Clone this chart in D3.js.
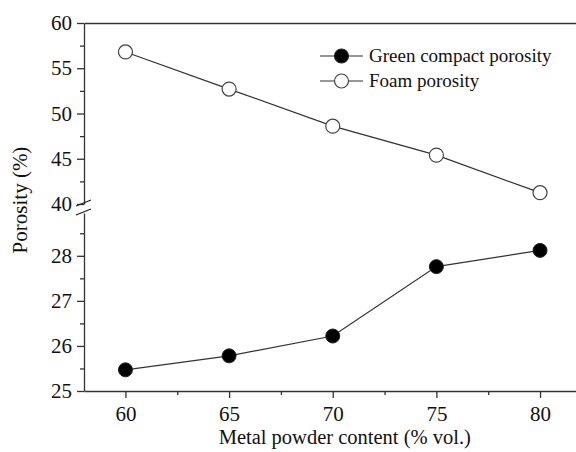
<!DOCTYPE html>
<html>
<head>
<meta charset="utf-8">
<script src="https://cdn.jsdelivr.net/npm/d3@7"></script>
<style>
  body { margin: 0; background: #fff; }
  svg { display: block; font-family: "Liberation Serif", "Times New Roman", serif; }
  .axis path, .axis line { stroke: #333; stroke-width: 1.3; }
</style>
</head>
<body>
<div id="container"></div>
<script>
// data
const content = [60, 65, 70, 75, 80];
const greenPorosity = [25.47, 25.78, 26.22, 27.76, 28.12];
const foamPorosity = [56.8, 52.7, 48.6, 45.4, 41.25];
const seriesNames = ["Green compact porosity", "Foam porosity"];
const xTicks = [60, 65, 70, 75, 80];
const upperTicks = [40, 45, 50, 55, 60];
const lowerTicks = [25, 26, 27, 28];

const w = 576;
const h = 452;

const svg = d3.select("#container")
  .append("svg")
  .attr("width", w)
  .attr("height", h);

const scalex = d3.scaleLinear().domain([58, 82]).range([84, 581.5]);
const yUp = d3.scaleLinear().domain([40, 60]).range([204, 23]);
const yLow = d3.scaleLinear().domain([25, 28.95]).range([391, 213]);

function styleText(g) {
  g.attr("font-family", "Liberation Serif, serif").attr("font-size", 21);
  g.selectAll("text").attr("fill", "#111");
}

// x axis
svg.append("g")
  .attr("class", "axis")
  .attr("transform", "translate(0," + yLow(25) + ")")
  .call(d3.axisBottom(scalex).tickValues(xTicks).tickSize(7).tickPadding(6).tickSizeOuter(0))
  .call(styleText)
  .call(g => g.selectAll("text").attr("dy", "0.8em"));
svg.append("g")
  .attr("class", "axis")
  .attr("transform", "translate(0," + yLow(25) + ")")
  .call(d3.axisBottom(scalex).tickValues([62.5, 67.5, 72.5, 77.5]).tickSize(4).tickFormat("").tickSizeOuter(0))
  .call(g => g.select(".domain").remove());

// top frame line
svg.append("g")
  .attr("class", "axis")
  .attr("transform", "translate(0," + yUp(60) + ")")
  .call(d3.axisTop(scalex).tickValues([]).tickSizeOuter(0));

// upper y axis
svg.append("g")
  .attr("class", "axis")
  .attr("transform", "translate(" + scalex(58) + ",0)")
  .call(d3.axisLeft(yUp).tickValues(upperTicks).tickSize(7).tickPadding(5).tickSizeOuter(0).tickFormat(d3.format("d")))
  .call(styleText);
svg.append("g")
  .attr("class", "axis")
  .attr("transform", "translate(" + scalex(58) + ",0)")
  .call(d3.axisLeft(yUp).tickValues([42.5, 47.5, 52.5, 57.5]).tickSize(4).tickFormat(""))
  .call(g => g.select(".domain").remove());

// lower y axis
svg.append("g")
  .attr("class", "axis")
  .attr("transform", "translate(" + scalex(58) + ",0)")
  .call(d3.axisLeft(yLow).tickValues(lowerTicks).tickSize(7).tickPadding(5).tickSizeOuter(0).tickFormat(d3.format("d")))
  .call(styleText);
svg.append("g")
  .attr("class", "axis")
  .attr("transform", "translate(" + scalex(58) + ",0)")
  .call(d3.axisLeft(yLow).tickValues([25.5, 26.5, 27.5, 28.5]).tickSize(4).tickFormat(""))
  .call(g => g.select(".domain").remove());

// break marks
const bx = scalex(58);
[yUp(40) - 1, yLow(28.95) - 1].forEach(by => {
  svg.append("line")
    .attr("x1", bx - 8).attr("y1", by + 3)
    .attr("x2", bx + 7).attr("y2", by - 3)
    .attr("stroke", "#222").attr("stroke-width", 1.2);
});

// axis titles
svg.append("text")
  .attr("x", (scalex(60) + scalex(80)) / 2 + 12)
  .attr("y", 444)
  .attr("text-anchor", "middle")
  .attr("font-size", 20.5)
  .attr("fill", "#111")
  .text("Metal powder content (% vol.)");

svg.append("text")
  .attr("transform", "translate(27,200) rotate(-90)")
  .attr("text-anchor", "middle")
  .attr("font-size", 21)
  .attr("fill", "#111")
  .text("Porosity (%)");

// series
const greenData = content.map((c, i) => [c, greenPorosity[i]]);
const foamData = content.map((c, i) => [c, foamPorosity[i]]);

const lineLow = d3.line().x(d => scalex(d[0])).y(d => yLow(d[1]));
const lineUp = d3.line().x(d => scalex(d[0])).y(d => yUp(d[1]));

svg.append("path")
  .datum(greenData)
  .attr("d", lineLow)
  .attr("fill", "none")
  .attr("stroke", "#333")
  .attr("stroke-width", 1.2);

svg.append("path")
  .datum(foamData)
  .attr("d", lineUp)
  .attr("fill", "none")
  .attr("stroke", "#333")
  .attr("stroke-width", 1.2);

svg.selectAll("circle.green")
  .data(greenData)
  .enter()
  .append("circle")
  .attr("class", "green")
  .attr("cx", d => scalex(d[0]))
  .attr("cy", d => yLow(d[1]))
  .attr("r", 7)
  .attr("fill", "#000")
  .attr("stroke", "#222");

svg.selectAll("circle.foam")
  .data(foamData)
  .enter()
  .append("circle")
  .attr("class", "foam")
  .attr("cx", d => scalex(d[0]))
  .attr("cy", d => yUp(d[1]))
  .attr("r", 7)
  .attr("fill", "#fff")
  .attr("stroke", "#444")
  .attr("stroke-width", 1.2);

// legend
const legend = svg.append("g").attr("transform", "translate(320,56)");
seriesNames.forEach((name, i) => {
  const g = legend.append("g").attr("transform", "translate(0," + (i * 25) + ")");
  g.append("line").attr("x1", 0).attr("x2", 43).attr("y1", 0).attr("y2", 0)
    .attr("stroke", "#333").attr("stroke-width", 1.2);
  g.append("circle").attr("cx", 21.5).attr("cy", 0).attr("r", 7)
    .attr("fill", i === 0 ? "#000" : "#fff")
    .attr("stroke", i === 0 ? "#222" : "#444").attr("stroke-width", 1.2);
  g.append("text").attr("x", 49).attr("y", 6)
    .attr("font-size", 19).attr("fill", "#111")
    .text(name);
});
</script>
</body>
</html>
